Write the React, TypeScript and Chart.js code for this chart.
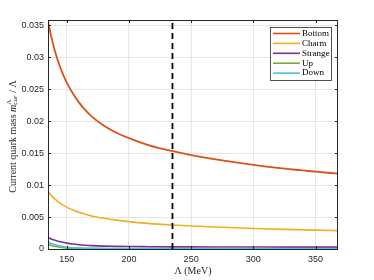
import React, { useEffect, useRef } from "react";
import { Chart, registerables } from "chart.js";

Chart.register(...registerables);

const lambdaMeV = [135, 137.5, 140, 142.5, 145, 147.5, 150, 155, 160, 165, 170, 180, 190, 200, 215, 235, 250, 275, 300, 325, 350, 368];
const bottomVals = [0.0356, 0.0333, 0.03135, 0.0297, 0.0283, 0.0271, 0.02605, 0.0243, 0.02288, 0.0217, 0.02073, 0.01928, 0.01818, 0.01733, 0.01629, 0.01529, 0.01469, 0.01384, 0.01314, 0.01256, 0.01209, 0.01178];
const charmVals = [0.0090, 0.00842, 0.00792, 0.0075, 0.00714, 0.00683, 0.00655, 0.0061, 0.00573, 0.00543, 0.00517, 0.0048, 0.00451, 0.00428, 0.00401, 0.00375, 0.0036, 0.00339, 0.00321, 0.00307, 0.00295, 0.00288];
const strangeVals = [0.00178, 0.00158, 0.00141, 0.00126, 0.00113, 0.00102, 0.00092, 0.00077, 0.00066, 0.00058, 0.00052, 0.00045, 0.00041, 0.00038, 0.00036, 0.00034, 0.00033, 0.00032, 0.00031, 0.0003, 0.0003, 0.0003];
const upVals = [0.0007, 0.00055, 0.00043, 0.00034, 0.00027, 0.00022, 0.00018, 0.00013, 0.0001, 0.00008, 0.00007, 0.00005, 0.00004, 0.00004, 0.00004, 0.00004, 0.00004, 0.00004, 0.00004, 0.00004, 0.00004, 0.00004];
const downVals = [0.0011, 0.0009, 0.00072, 0.00057, 0.00045, 0.00035, 0.00028, 0.0002, 0.00015, 0.00012, 0.0001, 0.00009, 0.00008, 0.00008, 0.00007, 0.00007, 0.00007, 0.00007, 0.00007, 0.00007, 0.00007, 0.00007];

const seriesNames = ["Bottom", "Charm", "Strange", "Up", "Down"];
const seriesColors = ["#D95319", "#EDB120", "#7E2F8E", "#77AC30", "#4DBEEE"];
const seriesValues = [bottomVals, charmVals, strangeVals, upVals, downVals];

const cutoffLambda = 235;
const xMin = 135;
const xMax = 368;
const yMin = 0;
const yMax = 0.0358;
const xTickVals = [150, 200, 250, 300, 350];
const yTickVals = [0, 0.005, 0.01, 0.015, 0.02, 0.025, 0.03, 0.035];

const SERIF = '"Liberation Serif", "DejaVu Serif", serif';
const SANS = '"Liberation Sans", Arial, sans-serif';

const decorPlugin = {
  id: "decor",
  afterDraw(chart: any) {
    const { ctx, chartArea: a, scales } = chart;
    const xs = scales.x;
    const ys = scales.y;
    ctx.save();
    // frame
    ctx.strokeStyle = "#262626";
    ctx.lineWidth = 1;
    ctx.strokeRect(Math.round(a.left) + 0.5, Math.round(a.top) + 0.5, Math.round(a.width) - 1, Math.round(a.height));
    // inward ticks
    ctx.beginPath();
    xTickVals.forEach((v) => {
      const px = Math.round(xs.getPixelForValue(v)) + 0.5;
      ctx.moveTo(px, a.bottom);
      ctx.lineTo(px, a.bottom - 3);
      ctx.moveTo(px, a.top);
      ctx.lineTo(px, a.top + 3);
    });
    yTickVals.forEach((v) => {
      const py = Math.round(ys.getPixelForValue(v)) + 0.5;
      ctx.moveTo(a.left, py);
      ctx.lineTo(a.left + 3, py);
      ctx.moveTo(a.right, py);
      ctx.lineTo(a.right - 3, py);
    });
    ctx.stroke();

    // legend
    const lx = 270, ly = 27, lw = 61, lh = 53;
    ctx.fillStyle = "#ffffff";
    ctx.fillRect(lx, ly, lw, lh);
    ctx.strokeStyle = "#262626";
    ctx.lineWidth = 0.8;
    ctx.strokeRect(lx + 0.5, ly + 0.5, lw, lh);
    ctx.font = `9px ${SERIF}`;
    ctx.textBaseline = "middle";
    ctx.textAlign = "left";
    seriesNames.forEach((name, i) => {
      const yy = ly + 6.5 + i * 9.9;
      ctx.strokeStyle = seriesColors[i];
      ctx.lineWidth = 1.6;
      ctx.beginPath();
      ctx.moveTo(lx + 3, yy);
      ctx.lineTo(lx + 30, yy);
      ctx.stroke();
      ctx.fillStyle = "#000000";
      ctx.fillText(name, lx + 32, yy);
    });

    // x title
    ctx.fillStyle = "#262626";
    ctx.font = `10px ${SERIF}`;
    ctx.textAlign = "center";
    ctx.textBaseline = "middle";
    ctx.fillText("Λ (MeV)", (a.left + a.right) / 2, 271);

    // y title with sub/superscripts
    const parts = [
      { t: "Current quark mass ", f: `10px ${SERIF}`, dy: 0 },
      { t: "m", f: `italic 10px ${SERIF}`, dy: 0 },
      { t: "Λ", f: `7px ${SERIF}`, dy: -4 },
      { t: "cur", f: `italic 7px ${SERIF}`, dy: 2.5 },
      { t: " / Λ", f: `10px ${SERIF}`, dy: 0 },
    ];
    const widths: number[] = [];
    parts.forEach((p, i) => {
      ctx.font = p.f;
      widths[i] = ctx.measureText(p.t).width;
    });
    const total = widths[0] + widths[1] + Math.max(widths[2], widths[3]) + widths[4];
    ctx.translate(13, (a.top + a.bottom) / 2 + 2);
    ctx.rotate(-Math.PI / 2);
    ctx.textAlign = "left";
    ctx.textBaseline = "middle";
    let cx = -total / 2;
    ctx.font = parts[0].f; ctx.fillText(parts[0].t, cx, 0); cx += widths[0];
    ctx.font = parts[1].f; ctx.fillText(parts[1].t, cx, 0); cx += widths[1];
    ctx.font = parts[2].f; ctx.fillText(parts[2].t, cx, parts[2].dy);
    ctx.font = parts[3].f; ctx.fillText(parts[3].t, cx, parts[3].dy);
    cx += Math.max(widths[2], widths[3]);
    ctx.font = parts[4].f; ctx.fillText(parts[4].t, cx, 0);
    ctx.restore();
  },
};

export default function App() {
  const canvasRef = useRef<HTMLCanvasElement | null>(null);

  useEffect(() => {
    if (!canvasRef.current) return;
    const datasets: any[] = seriesNames.map((name, i) => ({
      label: name,
      data: lambdaMeV.map((x, j) => ({ x, y: seriesValues[i][j] })),
      borderColor: seriesColors[i],
      backgroundColor: seriesColors[i],
      borderWidth: i === 0 ? 1.8 : 1.6,
      pointRadius: 0,
      cubicInterpolationMode: "monotone",
      fill: false,
      order: 5 - i,
    }));
    datasets.push({
      label: "cutoff",
      data: [
        { x: cutoffLambda, y: yMin },
        { x: cutoffLambda, y: yMax },
      ],
      borderColor: "#000000",
      borderWidth: 1.8,
      borderDash: [6, 4],
      pointRadius: 0,
      fill: false,
      order: 0,
    });

    const chart = new Chart(canvasRef.current, {
      type: "line",
      data: { datasets },
      options: {
        animation: false,
        responsive: false,
        maintainAspectRatio: false,
        layout: { padding: { left: 0, right: 36, top: 20, bottom: 0 } },
        plugins: { legend: { display: false }, tooltip: { enabled: false } },
        scales: {
          x: {
            type: "linear",
            min: xMin,
            max: xMax,
            afterBuildTicks: (s: any) => {
              s.ticks = xTickVals.map((v) => ({ value: v }));
            },
            afterFit: (s: any) => {
              s.height = 31;
            },
            grid: { color: "#e6e6e6", drawTicks: false, lineWidth: 1 },
            border: { display: false },
            ticks: {
              font: { family: SANS, size: 9 },
              color: "#262626",
              padding: 5,
              maxRotation: 0,
              callback: (v: any) => String(v),
            },
          },
          y: {
            type: "linear",
            min: yMin,
            max: yMax,
            afterBuildTicks: (s: any) => {
              s.ticks = yTickVals.map((v) => ({ value: v }));
            },
            afterFit: (s: any) => {
              s.width = 48;
            },
            grid: { color: "#e6e6e6", drawTicks: false, lineWidth: 1 },
            border: { display: false },
            ticks: {
              font: { family: SANS, size: 9 },
              color: "#262626",
              padding: 4,
              callback: (v: any) => String(Number(Number(v).toFixed(3))),
            },
          },
        },
      },
      plugins: [decorPlugin],
    });
    return () => chart.destroy();
  }, []);

  return (
    <div style={{ position: "fixed", left: 0, top: 0, width: 374, height: 280, background: "#fff" }}>
      <canvas ref={canvasRef} width={374} height={280} style={{ width: 374, height: 280 }} />
    </div>
  );
}
